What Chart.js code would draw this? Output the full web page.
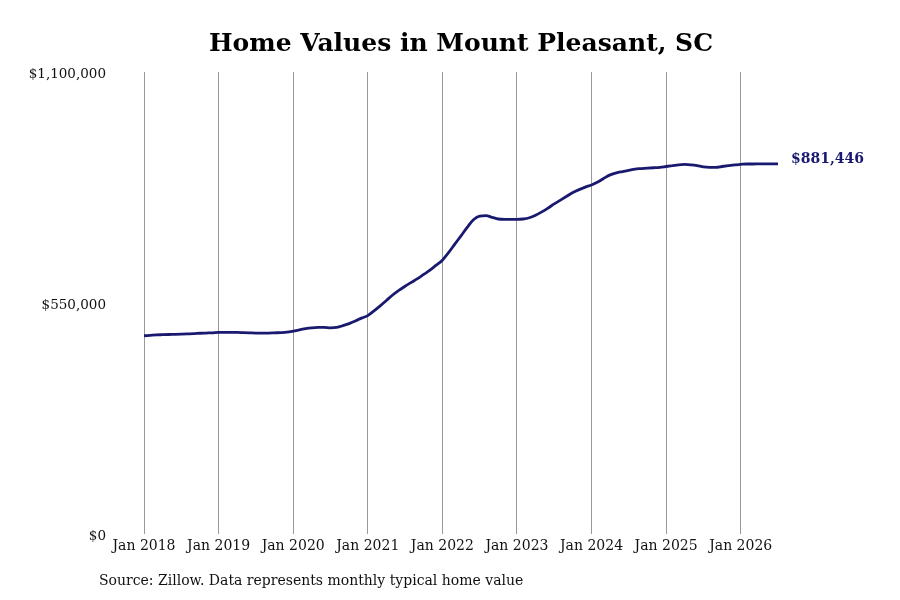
<!DOCTYPE html>
<html>
<head>
<meta charset="utf-8">
<script src="https://cdn.jsdelivr.net/npm/chart.js@4.4.1/dist/chart.umd.min.js"></script>
<style>
  body { margin: 0; background: #fff; }
  canvas { display: block; }
</style>
</head>
<body>
<canvas id="homeChart" width="900" height="600"></canvas>
<script>
// Monthly typical home value, Jan 2018 - Jul 2026
var startYear = 2018;
var homeValues = [
    472000, 473000, 474000, 474500, 475000, 475500, 476000, 476500, 477000, 478000, 478500, 479000, // 2018
    480000, 480000, 480000, 480000, 479500, 479000, 478500, 478500, 478500, 479000, 479500, 480500, // 2019
    483000, 486000, 489000, 491000, 492000, 492000, 491000, 492000, 496000, 501000, 507000, 514000, // 2020
    520000, 531000, 543000, 556000, 569000, 580000, 590000, 599000, 608000, 618000, 628000, 640000, // 2021
    652000, 670000, 690000, 710000, 730000, 748000, 757000, 758000, 754000, 750000, 749000, 749000, // 2022
    749000, 750000, 753000, 759000, 767000, 776000, 786000, 795000, 804000, 813000, 820000, 826000, // 2023
    831000, 838000, 847000, 855000, 860000, 863000, 866000, 869000, 870000, 871000, 872000, 873000, // 2024
    875000, 877000, 879000, 880000, 879000, 877000, 874000, 873000, 873000, 875000, 877000, 879000, // 2025
    880000, 881000, 881000, 881200, 881300, 881400, 881446                                          // 2026
];
var xTickLabels = ['Jan 2018', 'Jan 2019', 'Jan 2020', 'Jan 2021', 'Jan 2022', 'Jan 2023', 'Jan 2024', 'Jan 2025', 'Jan 2026'];
var yTickValues = [0, 550000, 1100000];

var lineColor = '#191970';
var serif = "'DejaVu Serif', serif";

// Points as {x: month index, y: value}
var points = [];
for (let i = 0; i < homeValues.length; i++) {
    points.push({ x: i, y: homeValues[i] });
}

function money(v) {
    return '$' + Math.round(v).toLocaleString('en-US');
}

// Title, centred over the plot area rather than the whole canvas
var plotTitle = {
    id: 'plotTitle',
    afterDraw(chart) {
        let area = chart.chartArea;
        let ctx = chart.ctx;
        ctx.save();
        ctx.font = 'bold 25px ' + serif;
        ctx.fillStyle = '#000';
        ctx.textAlign = 'center';
        ctx.textBaseline = 'middle';
        ctx.fillText('Home Values in Mount Pleasant, SC', (area.left + area.right) / 2, 44);
        ctx.restore();
    }
};

// Label next to the last point
var endLabel = {
    id: 'endLabel',
    afterDatasetsDraw(chart) {
        let meta = chart.getDatasetMeta(0);
        let last = meta.data[meta.data.length - 1];
        let ctx = chart.ctx;
        ctx.save();
        ctx.font = 'bold 14px ' + serif;
        ctx.fillStyle = lineColor;
        ctx.textAlign = 'left';
        ctx.textBaseline = 'middle';
        ctx.fillText(money(homeValues[homeValues.length - 1]), last.x + 13, last.y - 4);
        ctx.restore();
    }
};

// Source note under the chart
var sourceNote = {
    id: 'sourceNote',
    afterDraw(chart) {
        let ctx = chart.ctx;
        ctx.save();
        ctx.font = '14px ' + serif;
        ctx.fillStyle = '#111';
        ctx.textAlign = 'left';
        ctx.textBaseline = 'middle';
        ctx.fillText('Source: Zillow. Data represents monthly typical home value', 99, 581);
        ctx.restore();
    }
};

new Chart(document.getElementById('homeChart'), {
    type: 'line',
    data: {
        datasets: [{
            data: points,
            borderColor: lineColor,
            borderWidth: 2.8,
            pointRadius: 0,
            cubicInterpolationMode: 'monotone',
            fill: false
        }]
    },
    options: {
        responsive: false,
        animation: false,
        layout: { padding: { left: 0, right: 122, top: 72, bottom: 0 } },
        plugins: {
            legend: { display: false },
            tooltip: { enabled: false },
            title: { display: false }
        },
        scales: {
            x: {
                type: 'linear',
                min: 0,
                max: homeValues.length - 1,
                afterFit(scale) { scale.height = 66; },
                border: { display: false },
                grid: { color: '#999', lineWidth: 1, drawTicks: false },
                ticks: {
                    stepSize: 12,
                    includeBounds: false,
                    autoSkip: false,
                    maxRotation: 0,
                    padding: 4,
                    color: '#111',
                    font: { family: serif, size: 14 },
                    callback: function (v) { return xTickLabels[v / 12]; }
                }
            },
            y: {
                min: yTickValues[0],
                max: yTickValues[yTickValues.length - 1],
                afterFit(scale) { scale.width = 144; },
                border: { display: false },
                grid: { display: false, drawTicks: false },
                ticks: {
                    stepSize: yTickValues[1] - yTickValues[0],
                    padding: 38,
                    labelOffset: 2,
                    color: '#111',
                    font: { family: serif, size: 13.5 },
                    callback: function (v) { return money(v); }
                }
            }
        }
    },
    plugins: [plotTitle, endLabel, sourceNote]
});
</script>
</body>
</html>
